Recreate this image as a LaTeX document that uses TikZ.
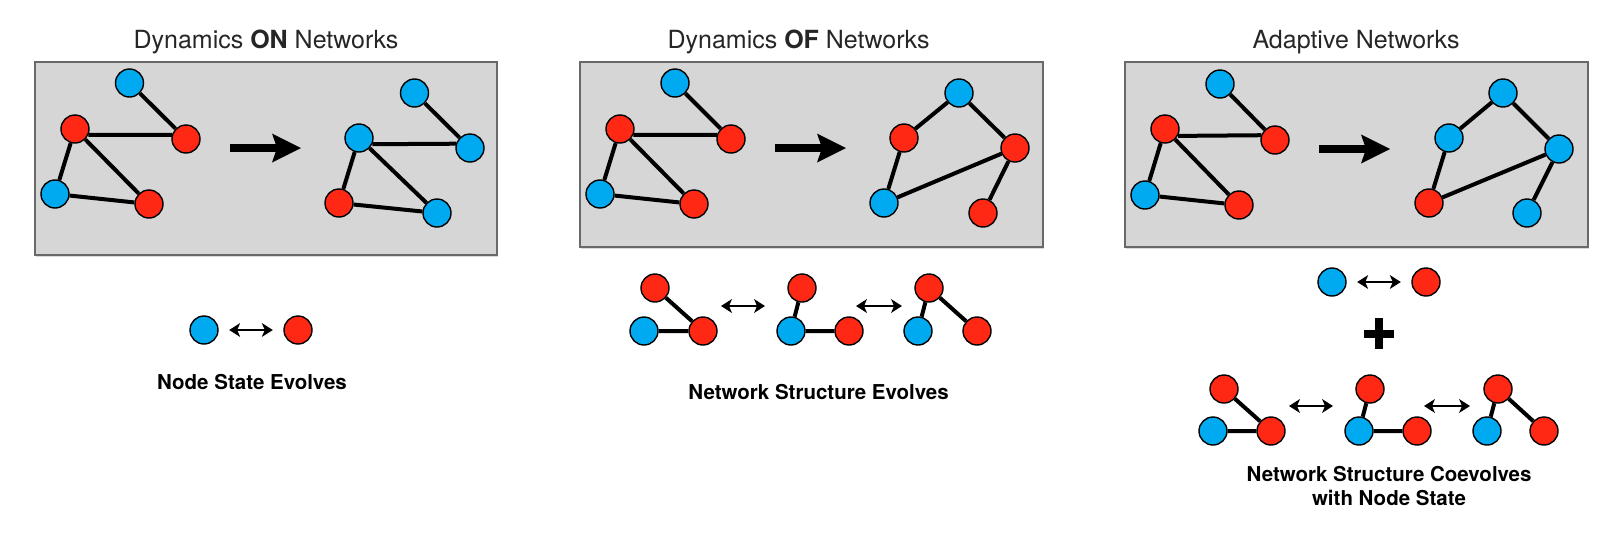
\documentclass[tikz,border=0pt]{standalone}
\usepackage{fontspec}
\setmainfont{TeX Gyre Heros}
\usetikzlibrary{arrows.meta,shadows}
\definecolor{nblue}{RGB}{0,170,240}
\definecolor{nred}{RGB}{255,40,20}
\definecolor{boxgray}{RGB}{214,214,214}
\definecolor{boxedge}{RGB}{105,105,105}
\begin{document}
\begin{tikzpicture}[x=1pt,y=-1pt,
  bn/.style={circle,draw=black,line width=1.4pt,fill=nblue,minimum size=28pt,inner sep=0pt},
  rn/.style={bn,fill=nred},
  edge/.style={line width=4pt},
  bigarrow/.style={line width=8pt,-{Stealth[length=29pt,width=29pt,inset=5pt,line width=0pt]}},
  dtip/.tip={Stealth[length=11pt,width=14pt,inset=3pt,line width=0pt]},
  dbl/.style={line width=2.8pt,shorten <=10.5pt,shorten >=10.5pt,dtip-dtip},
  dblc/.style={line width=2.8pt,dtip-dtip},
  panel/.style={draw=boxedge,line width=1.3pt,fill=boxgray,drop shadow={shadow xshift=0.5pt,shadow yshift=-1.5pt,opacity=0.3}},
  title/.style={anchor=base,font=\fontsize{25}{30}\selectfont,text=black!85},
  lbl/.style={anchor=base,font=\fontsize{20.5}{24}\selectfont\bfseries}
]
\useasboundingbox (0,0) rectangle (1612,550);

% ---------- panels ----------
\path[panel] (35,62) rectangle (497,255);
\path[panel] (580,62) rectangle (1043,247);
\path[panel] (1125,62) rectangle (1588,247);

% ---------- titles ----------
\node[title] (t1) at (266,48.3) {Dynamics \textbf{ON} Networks};
\node[title] (t2) at (798.6,48.3) {Dynamics \textbf{OF} Networks};
\node[title] (t3) at (1356,48.3) {Adaptive Networks};

% ---------- panel 1 ----------
\node[bn] (p1a) at (129.5,83) {};
\node[rn] (p1b) at (75,129) {};
\node[rn] (p1c) at (186,139) {};
\node[bn] (p1d) at (55,194) {};
\node[rn] (p1e) at (149,204) {};
\draw[edge] (p1a)--(p1c) (p1b.-24)--(p1c.164) (p1b)--(p1d) (p1b)--(p1e) (p1d)--(p1e);
\coordinate (a1s) at (230,148); \coordinate (a1e) at (301,148);
\draw[bigarrow] (a1s)--(a1e);
\node[bn] (p1f) at (414.5,93) {};
\node[bn] (p1g) at (359,138) {};
\node[bn] (p1h) at (470,148) {};
\node[rn] (p1i) at (339,203) {};
\node[bn] (p1j) at (437,213) {};
\draw[edge] (p1f)--(p1h) (p1g.-25)--(p1h.163) (p1g)--(p1i) (p1g)--(p1j) (p1i)--(p1j);

% ---------- panel 2 ----------
\node[bn] (p2a) at (675,83) {};
\node[rn] (p2b) at (620,129) {};
\node[rn] (p2c) at (731,139) {};
\node[bn] (p2d) at (600,194) {};
\node[rn] (p2e) at (694,204) {};
\draw[edge] (p2a)--(p2c) (p2b.-24)--(p2c.164) (p2b)--(p2d) (p2b)--(p2e) (p2d)--(p2e);
\coordinate (a2s) at (775,148); \coordinate (a2e) at (846,148);
\draw[bigarrow] (a2s)--(a2e);
\node[bn] (p2f) at (959,93) {};
\node[rn] (p2g) at (904,138) {};
\node[rn] (p2h) at (1015,148) {};
\node[bn] (p2i) at (884,203) {};
\node[rn] (p2j) at (983,213) {};
\draw[edge] (p2f)--(p2g) (p2f)--(p2h) (p2g)--(p2i) (p2i)--(p2h) (p2h)--(p2j);

% ---------- panel 3 ----------
\node[bn] (p3a) at (1220,84) {};
\node[rn] (p3b) at (1165,129) {};
\node[rn] (p3c) at (1275,140) {};
\node[bn] (p3d) at (1145,195) {};
\node[rn] (p3e) at (1239,205) {};
\draw[edge] (p3a)--(p3c) (p3b.-28)--(p3c.161) (p3b)--(p3d) (p3b)--(p3e) (p3d)--(p3e);
\coordinate (a3s) at (1319,149); \coordinate (a3e) at (1390,149);
\draw[bigarrow] (a3s)--(a3e);
\node[bn] (p3f) at (1503,93) {};
\node[bn] (p3g) at (1449,138) {};
\node[bn] (p3h) at (1559,149) {};
\node[rn] (p3i) at (1429,203) {};
\node[bn] (p3j) at (1527,213) {};
\draw[edge] (p3f)--(p3g) (p3f)--(p3h) (p3g)--(p3i) (p3i)--(p3h) (p3h)--(p3j);

% ---------- below panel 1 ----------
\node[bn] (s1b) at (204,330) {};
\node[rn] (s1r) at (298,330) {};
\draw[dbl] (s1b)--(s1r);
\node[lbl] (l1) at (252,389) {Node State Evolves};

% ---------- below panel 2 ----------
\node[rn] (m1t) at (655,288) {};
\node[bn] (m1b) at (644,331) {};
\node[rn] (m1r) at (703,331) {};
\draw[edge] (m1t)--(m1r) (m1b)--(m1r);
\coordinate (d1s) at (721,306); \coordinate (d1e) at (765,306);
\draw[dblc] (d1s)--(d1e);
\node[rn] (m2t) at (802,288) {};
\node[bn] (m2b) at (791,331) {};
\node[rn] (m2r) at (849,331) {};
\draw[edge] (m2t)--(m2b) (m2b)--(m2r);
\coordinate (d2s) at (856,306); \coordinate (d2e) at (902,306);
\draw[dblc] (d2s)--(d2e);
\node[rn] (m3t) at (929,288) {};
\node[bn] (m3b) at (918,331) {};
\node[rn] (m3r) at (977,331) {};
\draw[edge] (m3t)--(m3b) (m3t)--(m3r);
\node[lbl] (l2) at (818.5,399) {Network Structure Evolves};

% ---------- below panel 3 ----------
\node[bn] (s3b) at (1332,282) {};
\node[rn] (s3r) at (1426,282) {};
\draw[dbl] (s3b)--(s3r);
\fill (1364,330) rectangle (1394,338.3);
\fill (1375,318.3) rectangle (1383.3,349);
\node[rn] (n1t) at (1224,389) {};
\node[bn] (n1b) at (1213,431) {};
\node[rn] (n1r) at (1271,431) {};
\draw[edge] (n1t)--(n1r) (n1b)--(n1r);
\coordinate (e1s) at (1289,406); \coordinate (e1e) at (1333,406);
\draw[dblc] (e1s)--(e1e);
\node[rn] (n2t) at (1370,389) {};
\node[bn] (n2b) at (1359,431) {};
\node[rn] (n2r) at (1417,431) {};
\draw[edge] (n2t)--(n2b) (n2b)--(n2r);
\coordinate (e2s) at (1424,406); \coordinate (e2e) at (1470,406);
\draw[dblc] (e2s)--(e2e);
\node[rn] (n3t) at (1498,389) {};
\node[bn] (n3b) at (1487,431) {};
\node[rn] (n3r) at (1544,431) {};
\draw[edge] (n3t)--(n3b) (n3t)--(n3r);
\node[lbl] (l3a) at (1389,481) {Network Structure Coevolves};
\node[lbl] (l3b) at (1389,505) {with Node State};
\end{tikzpicture}
\end{document}
